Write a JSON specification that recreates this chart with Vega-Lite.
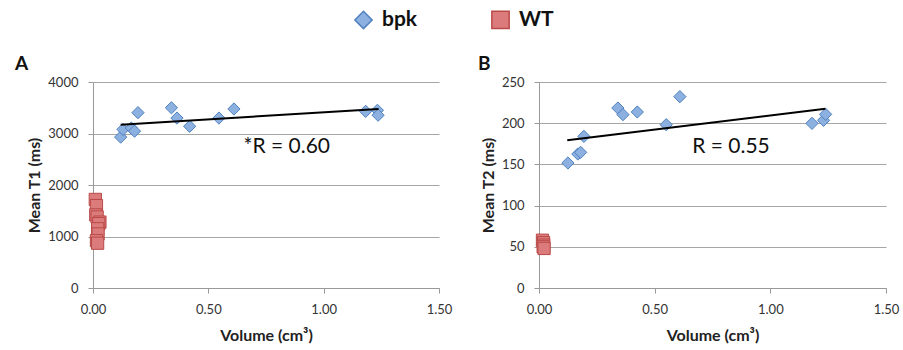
{
  "$schema": "https://vega.github.io/schema/vega-lite/v6.json",
  "background": "white",
  "padding": {"left": 15, "top": 9, "right": 5, "bottom": 5},
  "datasets": {
    "t1": [
      {"group": "bpk", "volume": 0.12, "value": 2930},
      {"group": "bpk", "volume": 0.13, "value": 3080},
      {"group": "bpk", "volume": 0.166, "value": 3107},
      {"group": "bpk", "volume": 0.18, "value": 3045},
      {"group": "bpk", "volume": 0.195, "value": 3405},
      {"group": "bpk", "volume": 0.34, "value": 3500},
      {"group": "bpk", "volume": 0.364, "value": 3300},
      {"group": "bpk", "volume": 0.419, "value": 3140},
      {"group": "bpk", "volume": 0.546, "value": 3300},
      {"group": "bpk", "volume": 0.611, "value": 3476},
      {"group": "bpk", "volume": 1.182, "value": 3430},
      {"group": "bpk", "volume": 1.233, "value": 3450},
      {"group": "bpk", "volume": 1.236, "value": 3355},
      {"group": "WT", "volume": 0.01, "value": 1720},
      {"group": "WT", "volume": 0.015, "value": 1600},
      {"group": "WT", "volume": 0.012, "value": 1420},
      {"group": "WT", "volume": 0.018, "value": 1380},
      {"group": "WT", "volume": 0.03, "value": 1280},
      {"group": "WT", "volume": 0.025, "value": 1250},
      {"group": "WT", "volume": 0.02, "value": 1150},
      {"group": "WT", "volume": 0.022, "value": 1050},
      {"group": "WT", "volume": 0.015, "value": 920},
      {"group": "WT", "volume": 0.02, "value": 870}
    ],
    "t1fit": [
      {"volume": 0.12, "value": 3171},
      {"volume": 1.238, "value": 3476}
    ],
    "t1label": [
      {"volume": 0.84, "value": 2740, "label": "*R = 0.60"}
    ],
    "t2": [
      {"group": "bpk", "volume": 0.125, "value": 151.7},
      {"group": "bpk", "volume": 0.168, "value": 162.6},
      {"group": "bpk", "volume": 0.18, "value": 164.6},
      {"group": "bpk", "volume": 0.194, "value": 184},
      {"group": "bpk", "volume": 0.341, "value": 218.4},
      {"group": "bpk", "volume": 0.363, "value": 210.4},
      {"group": "bpk", "volume": 0.425, "value": 213.6},
      {"group": "bpk", "volume": 0.55, "value": 198.2},
      {"group": "bpk", "volume": 0.609, "value": 232.2},
      {"group": "bpk", "volume": 1.18, "value": 199.8},
      {"group": "bpk", "volume": 1.23, "value": 203.5},
      {"group": "bpk", "volume": 1.239, "value": 210.8},
      {"group": "WT", "volume": 0.015, "value": 58},
      {"group": "WT", "volume": 0.02, "value": 55},
      {"group": "WT", "volume": 0.02, "value": 52},
      {"group": "WT", "volume": 0.018, "value": 50},
      {"group": "WT", "volume": 0.022, "value": 48}
    ],
    "t2fit": [
      {"volume": 0.122, "value": 179.2},
      {"volume": 1.238, "value": 217.6}
    ],
    "t2label": [
      {"volume": 0.83, "value": 171, "label": "R = 0.55"}
    ]
  },
  "config": {
    "font": "Lato",
    "view": {"stroke": null},
    "scale": {"nice": false, "zero": false},
    "axis": {
      "labelFont": "Lato",
      "labelFontSize": 13,
      "labelColor": "#333333",
      "labelOverlap": false,
      "labelFlush": false,
      "titleFont": "Lato",
      "titleFontSize": 16,
      "titleFontWeight": "bold",
      "titleColor": "#222222",
      "domainColor": "#999999",
      "tickColor": "#999999",
      "gridColor": "#a6a6a6",
      "gridWidth": 1.2
    },
    "legend": {
      "orient": "none",
      "direction": "horizontal",
      "legendX": 260,
      "legendY": -73,
      "labelFont": "Lato",
      "labelFontSize": 21,
      "labelFontWeight": "bold",
      "labelColor": "#111111",
      "symbolSize": 300,
      "columnPadding": 70,
      "labelOffset": 8,
      "title": null
    },
    "title": {"font": "Lato", "fontSize": 19, "fontWeight": "bold", "anchor": "start", "frame": "group", "color": "#111111"}
  },
  "resolve": {"scale": {"fill": "shared", "stroke": "shared", "shape": "shared"}},
  "spacing": 26,
  "hconcat": [
    {
      "width": 346,
      "height": 206,
      "title": {"text": "A", "dx": -78, "offset": 2},
      "layer": [
        {
          "data": {"name": "t1"},
          "mark": {"type": "point", "filled": true, "size": 150, "strokeWidth": 1, "opacity": 1},
          "encoding": {
            "x": {"field": "volume", "type": "quantitative", "scale": {"domain": [0, 1.5], "padding": 0},
                  "axis": {"title": "Volume (cm³)", "values": [0, 0.5, 1, 1.5], "format": ".2f", "grid": false, "tickSize": 5, "labelPadding": 10, "titlePadding": 11}},
            "y": {"field": "value", "type": "quantitative", "scale": {"domain": [0, 4000], "padding": 0},
                  "axis": {"title": "Mean T1 (ms)", "values": [0, 500, 1000, 1500, 2000, 2500, 3000, 3500, 4000], "format": "d", "tickSize": 5, "labelPadding": 10, "titlePadding": 5}},
            "fill": {"field": "group", "type": "nominal", "scale": {"domain": ["bpk", "WT"], "range": ["#8cb0e0", "#dc7b7b"]}, "legend": {"title": null}},
            "stroke": {"field": "group", "type": "nominal", "scale": {"domain": ["bpk", "WT"], "range": ["#4f81bd", "#b94a48"]}, "legend": {"title": null}},
            "shape": {"field": "group", "type": "nominal", "scale": {"domain": ["bpk", "WT"], "range": ["diamond", "square"]}, "legend": {"title": null}}
          }
        },
        {
          "data": {"name": "t1fit"},
          "mark": {"type": "line", "color": "black", "strokeWidth": 2},
          "encoding": {
            "x": {"field": "volume", "type": "quantitative", "scale": {"domain": [0, 1.5], "padding": 0}},
            "y": {"field": "value", "type": "quantitative", "scale": {"domain": [0, 4000], "padding": 0}}
          }
        },
        {
          "data": {"name": "t1label"},
          "mark": {"type": "text", "fontSize": 21, "font": "Lato", "color": "#111111"},
          "encoding": {
            "x": {"field": "volume", "type": "quantitative", "scale": {"domain": [0, 1.5], "padding": 0}},
            "y": {"field": "value", "type": "quantitative", "scale": {"domain": [0, 4000], "padding": 0}},
            "text": {"field": "label"}
          }
        }
      ]
    },
    {
      "width": 347,
      "height": 206,
      "title": {"text": "B", "dx": -61, "offset": 2},
      "layer": [
        {
          "data": {"name": "t2"},
          "mark": {"type": "point", "filled": true, "size": 150, "strokeWidth": 1, "opacity": 1},
          "encoding": {
            "x": {"field": "volume", "type": "quantitative", "scale": {"domain": [0, 1.5], "padding": 0},
                  "axis": {"title": "Volume (cm³)", "values": [0, 0.5, 1, 1.5], "format": ".2f", "grid": false, "tickSize": 5, "labelPadding": 10, "titlePadding": 11}},
            "y": {"field": "value", "type": "quantitative", "scale": {"domain": [0, 250], "padding": 0},
                  "axis": {"title": "Mean T2 (ms)", "values": [0, 50, 100, 150, 200, 250], "format": "d", "tickSize": 5, "labelPadding": 10, "titlePadding": 5}},
            "fill": {"field": "group", "type": "nominal", "scale": {"domain": ["bpk", "WT"], "range": ["#8cb0e0", "#dc7b7b"]}, "legend": {"title": null}},
            "stroke": {"field": "group", "type": "nominal", "scale": {"domain": ["bpk", "WT"], "range": ["#4f81bd", "#b94a48"]}, "legend": {"title": null}},
            "shape": {"field": "group", "type": "nominal", "scale": {"domain": ["bpk", "WT"], "range": ["diamond", "square"]}, "legend": {"title": null}}
          }
        },
        {
          "data": {"name": "t2fit"},
          "mark": {"type": "line", "color": "black", "strokeWidth": 2},
          "encoding": {
            "x": {"field": "volume", "type": "quantitative", "scale": {"domain": [0, 1.5], "padding": 0}},
            "y": {"field": "value", "type": "quantitative", "scale": {"domain": [0, 250], "padding": 0}}
          }
        },
        {
          "data": {"name": "t2label"},
          "mark": {"type": "text", "fontSize": 21, "font": "Lato", "color": "#111111"},
          "encoding": {
            "x": {"field": "volume", "type": "quantitative", "scale": {"domain": [0, 1.5], "padding": 0}},
            "y": {"field": "value", "type": "quantitative", "scale": {"domain": [0, 250], "padding": 0}},
            "text": {"field": "label"}
          }
        }
      ]
    }
  ]
}
